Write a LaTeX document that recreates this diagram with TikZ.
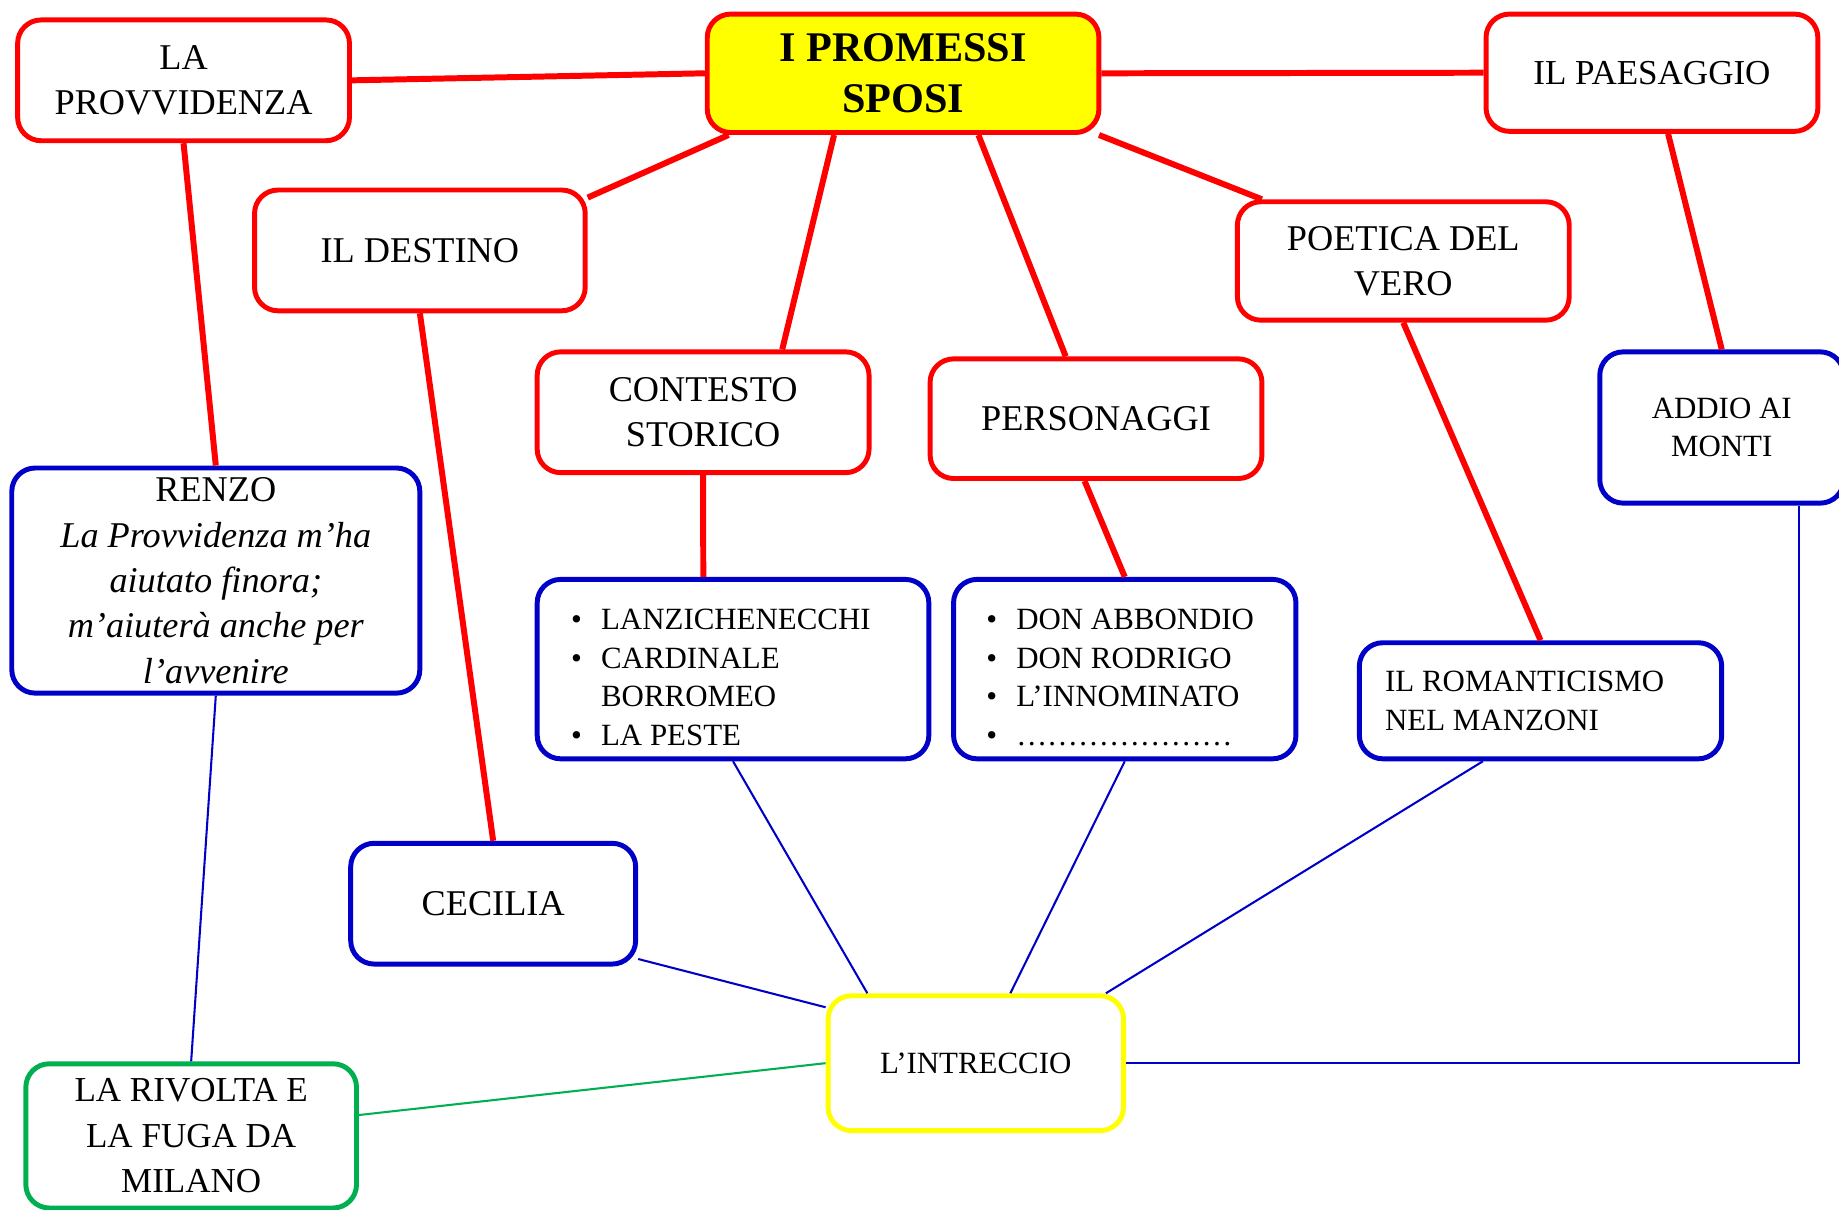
\documentclass[tikz,border=0pt]{standalone}
\usepackage{fontspec}
\setmainfont{Liberation Serif}
\usepackage{tikz}
\usetikzlibrary{calc}
\definecolor{mapred}{RGB}{255,0,0}
\definecolor{mapblue}{RGB}{0,0,200}
\definecolor{mapgreen}{RGB}{0,176,80}
\definecolor{mapyellow}{RGB}{255,255,0}

\tikzset{
  box/.style={draw, fill=white, rounded corners=0.4cm, line width=2.4pt, align=center, inner sep=0pt,
    font=\fontsize{17.6}{22}\selectfont},
  redbox/.style={box, draw=mapred},
  bluebox/.style={box, draw=mapblue},
  smalltext/.style={font=\fontsize{15}{18.8}\selectfont},
  listbox/.style={bluebox, smalltext, align=flush left},
  redline/.style={draw=mapred, line width=2.9pt},
  blueline/.style={draw=mapblue, line width=1pt},
  greenline/.style={draw=mapgreen, line width=1pt}
}
\newcommand{\pt}{\makebox[0.51cm][l]{\textbullet}}
\newcommand{\topgap}{\rule{0pt}{18pt}}

\begin{document}
\begin{tikzpicture}[x=0.02cm, y=-0.02cm]
  \useasboundingbox (0,0) rectangle (1568,1031);
  \clip (0,0) rectangle (1568,1031);

  % top row
  \node[redbox, fill=mapyellow, minimum width=6.68cm, minimum height=2.02cm,
        font=\fontsize{20.5}{25}\selectfont\bfseries] at (770,62.5) (sposi) {I PROMESSI\\SPOSI};
  \node[redbox, minimum width=5.66cm, minimum height=2.06cm] at (156.5,68.5) (provv) {LA\\PROVVIDENZA};
  \node[redbox, minimum width=5.66cm, minimum height=2.0cm, font=\fontsize{17}{22}\selectfont] at (1408.5,62) (paes) {IL PAESAGGIO};

  % second row
  \node[redbox, minimum width=5.64cm, minimum height=2.06cm] at (358,213.5) (destino) {IL DESTINO};
  \node[redbox, minimum width=5.66cm, minimum height=2.02cm] at (1196.5,222.5) (poetica) {POETICA DEL\\VERO};
  \node[redbox, minimum width=5.66cm, minimum height=2.06cm] at (599.5,351.5) (contesto) {CONTESTO\\STORICO};
  \node[redbox, minimum width=5.66cm, minimum height=2.04cm] at (934.5,357) (personaggi) {PERSONAGGI};
  \node[bluebox, smalltext, minimum width=4.16cm, minimum height=2.58cm] at (1468,364.5) (addio) {ADDIO AI\\MONTI};

  % blue boxes
  \node[bluebox, minimum width=6.96cm, minimum height=3.84cm] at (184,495) (renzo)
    {RENZO\\\itshape La Provvidenza m’ha\\\itshape aiutato finora;\\\itshape m’aiuterà anche per\\\itshape l’avvenire};
  \node[listbox, text width=5.52cm, inner xsep=0.58cm, minimum height=3.06cm] at (625,570.5) (lanz)
    {\topgap\pt LANZICHENECCHI\\\pt CARDINALE\\\hspace*{0.51cm}BORROMEO\\\pt LA PESTE};
  \node[listbox, text width=4.72cm, inner xsep=0.56cm, minimum height=3.06cm] at (959,570.5) (don)
    {\topgap\pt DON ABBONDIO\\\pt DON RODRIGO\\\pt L’INNOMINATO\\\pt …………………};
  \node[listbox, text width=5.30cm, inner xsep=0.44cm, minimum height=1.98cm] at (1313.5,597.5) (roman)
    {IL ROMANTICISMO\\NEL MANZONI};
  \node[bluebox, minimum width=4.86cm, minimum height=2.06cm] at (420.5,770.5) (cecilia) {CECILIA};

  % bottom
  \node[box, draw=mapyellow, smalltext, minimum width=5.04cm, minimum height=2.3cm] at (832,906.5) (intreccio) {L’INTRECCIO};
  \node[box, draw=mapgreen, font=\fontsize{17}{22}\selectfont, minimum width=5.64cm, minimum height=2.46cm] at (163,968.5) (rivolta)
    {LA RIVOLTA E\\LA FUGA DA\\MILANO};

  % red connectors
  \draw[redline] (sposi.west) -- (provv.east);
  \draw[redline] (sposi.east) -- (paes.west);
  \draw[redline] ($(sposi.south west)!.06!(sposi.south east)$) -- ($(destino.north east)!.08!(destino.south east)$);
  \draw[redline] ($(sposi.south west)!.326!(sposi.south east)$) -- ($(contesto.north west)!.735!(contesto.north east)$);
  \draw[redline] ($(sposi.south west)!.69!(sposi.south east)$) -- ($(personaggi.north west)!.41!(personaggi.north east)$);
  \draw[redline] ($(sposi.south west)!.994!(sposi.south east)$) -- ($(poetica.north west)!.08!(poetica.north east)$);
  \draw[redline] (provv.south) -- (renzo.north);
  \draw[redline] ($(paes.south west)!.548!(paes.south east)$) -- (addio.north);
  \draw[redline] (destino.south) -- (cecilia.north);
  \draw[redline] (contesto.south) -- ($(lanz.north west)!.425!(lanz.north east)$);
  \draw[redline] ($(personaggi.south west)!.466!(personaggi.south east)$) -- (don.north);
  \draw[redline] (poetica.south) -- (roman.north);

  % thin connectors
  \draw[blueline] (lanz.south) -- ($(intreccio.north west)!.139!(intreccio.north east)$);
  \draw[blueline] (don.south) -- ($(intreccio.north west)!.615!(intreccio.north east)$);
  \draw[blueline] ($(roman.south west)!.343!(roman.south east)$) -- ($(intreccio.north west)!.933!(intreccio.north east)$);
  \draw[blueline] ($(cecilia.north east)!.94!(cecilia.south east)$) -- ($(intreccio.north west)!.1!(intreccio.south west)$);
  \draw[blueline] (renzo.south) -- (rivolta.north);
  \draw[blueline] ($(addio.south west)!.81!(addio.south east)$) |- (intreccio.east);
  \draw[greenline] ($(rivolta.north east)!.36!(rivolta.south east)$) -- (intreccio.west);
\end{tikzpicture}
\end{document}
